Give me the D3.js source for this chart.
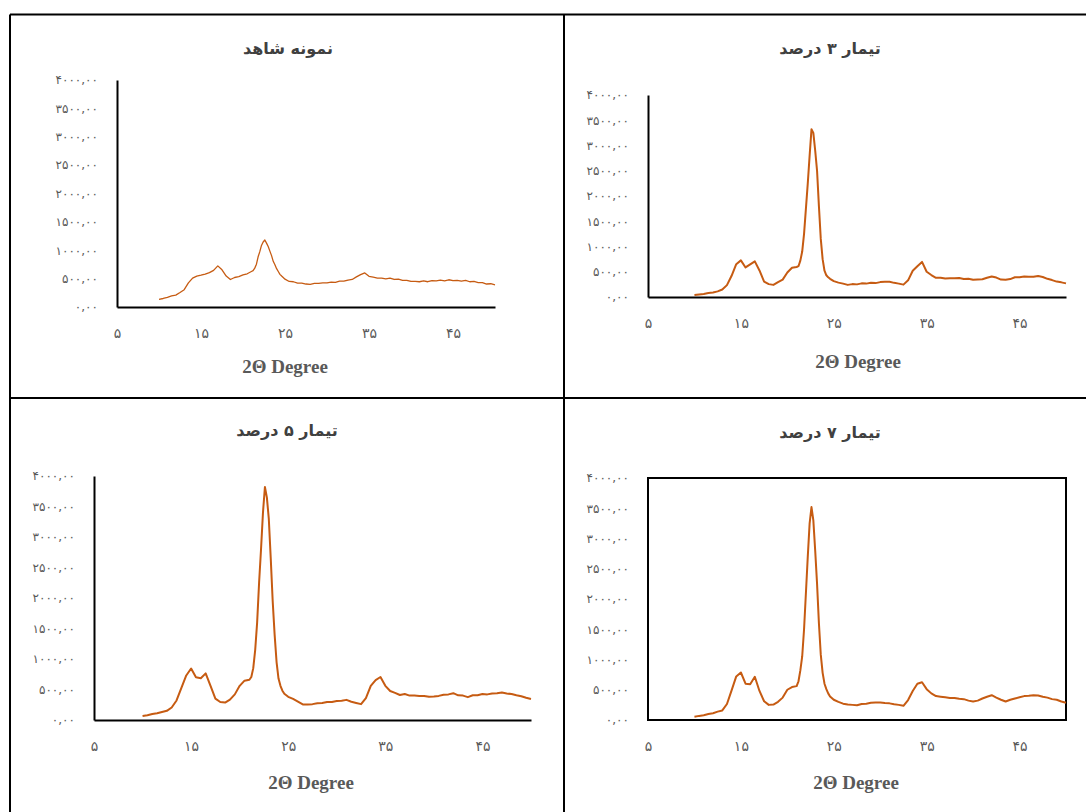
<!DOCTYPE html>
<html>
<head>
<meta charset="utf-8">
<script src="https://cdn.jsdelivr.net/npm/d3@7"></script>
<style>
  body { margin: 0; background: #fff; }
  .tick text { fill: #595959; }
</style>
</head>
<body>
<div id="chart"></div>
<script>
// 2-theta sample points (denser around the main peak)
var angle = [10,10.5,11,11.5,12,12.5,13,13.5,14,14.5,15,15.5,16,16.5,17,17.5,18,18.5,19,19.5,20,20.5,
  21,21.2,21.4,21.6,21.8,22,22.2,22.4,22.6,22.8,23,23.2,23.4,23.6,23.8,24,24.2,24.4,24.6,
  25,25.5,26,26.5,27,27.5,28,28.5,29,29.5,30,30.5,31,31.5,32,32.5,33,33.5,34,34.5,35,35.5,36,36.5,37,37.5,
  38,38.5,39,39.5,40,40.5,41,41.5,42,42.5,43,43.5,44,44.5,45,45.5,46,46.5,47,47.5,48,48.5,49,49.5,50];

var control = [135,150,170,195,210,255,305,425,510,545,560,580,605,645,725,655,545,485,520,535,565,585,
  625,640,685,755,885,975,1085,1145,1180,1125,1065,985,905,805,745,675,625,575,545,
  490,450,445,420,420,405,400,415,415,425,425,440,435,455,455,475,485,530,570,600,540,525,510,510,495,510,
  485,490,470,470,450,450,445,460,445,465,460,475,460,480,465,470,455,470,445,450,430,430,405,410,390,385];

var treat3 = [40,50,58,78,88,112,148,235,420,650,725,585,645,705,525,305,255,240,295,345,485,580,
  595,610,720,900,1250,1750,2250,2800,3320,3250,2900,2500,1800,1150,750,520,430,390,360,
  315,285,265,240,255,250,270,265,280,275,295,300,300,280,265,245,330,520,610,695,500,435,380,380,365,370,
  370,375,355,360,340,345,350,380,405,385,345,340,355,390,390,405,400,400,415,395,360,335,305,290,270];

var treat5 = [65,78,98,112,132,150,205,320,525,730,845,700,685,765,560,350,295,285,335,420,560,645,
  660,705,850,1150,1600,2250,2800,3400,3820,3650,3300,2650,1950,1400,950,680,560,480,430,
  380,345,300,255,255,260,275,280,295,295,310,315,330,300,280,260,360,560,655,705,560,475,445,410,425,400,
  400,395,395,380,385,395,415,420,440,405,400,375,405,405,425,420,435,440,450,435,425,405,390,365,345,330];

var treat7 = [55,68,78,98,112,138,158,265,490,720,785,600,590,715,480,310,250,255,300,370,500,545,
  560,640,820,1050,1500,2100,2700,3250,3520,3300,2800,2250,1600,1080,780,600,510,440,390,
  335,300,270,255,250,245,265,270,285,290,290,280,275,260,250,235,330,480,600,625,510,440,395,385,375,365,
  365,350,345,320,305,320,355,385,410,370,335,305,335,355,375,395,400,410,405,385,370,345,335,305,285];

var series = [control, treat3, treat5, treat7];
var titles = ["نمونه شاهد", "تیمار ۳ درصد", "تیمار ۵ درصد", "تیمار ۷ درصد"];
var axisTitle = "2Θ Degree";
var xTicks = [5, 15, 25, 35, 45];
var yTicks = [0, 500, 1000, 1500, 2000, 2500, 3000, 3500, 4000];

var layout = [
  { left: 117, right: 495, top: 80, bottom: 307, titleX: 288, titleY: 54, axX: 285, axY: 373, line: 1.3, box: false },
  { left: 648, right: 1066, top: 95, bottom: 297, titleX: 830, titleY: 54, axX: 858, axY: 368, line: 2, box: false },
  { left: 94, right: 531, top: 476, bottom: 720, titleX: 287, titleY: 436, axX: 311, axY: 789, line: 2, box: false },
  { left: 648, right: 1066, top: 478, bottom: 720, titleX: 830, titleY: 438, axX: 856, axY: 789, line: 2, box: true }
];

var faDigits = "۰۱۲۳۴۵۶۷۸۹";
function toFa(s) {
  return String(s).replace(/[0-9]/g, function(c) { return faDigits[+c]; });
}
var yFmt = function(d) { return toFa(d3.format(".2f")(d).replace(".", ",")); };

var W = 1086, H = 812;
var svg = d3.select("#chart").append("svg")
  .attr("width", W)
  .attr("height", H);

// table frame
var frame = svg.append("g").attr("stroke", "#000").attr("stroke-width", 2);
frame.append("line").attr("x1", 10).attr("x2", W).attr("y1", 14.5).attr("y2", 14.5);
frame.append("line").attr("x1", 10).attr("x2", 10).attr("y1", 14.5).attr("y2", H);
frame.append("line").attr("x1", 564).attr("x2", 564).attr("y1", 14.5).attr("y2", H);
frame.append("line").attr("x1", 10).attr("x2", W).attr("y1", 398).attr("y2", 398);

layout.forEach(function(p, i) {
  var x = d3.scaleLinear().domain([5, 50]).range([p.left, p.right]);
  var y = d3.scaleLinear().domain([0, 4000]).range([p.bottom, p.top]);
  var g = svg.append("g");

  g.append("text")
    .attr("x", p.titleX).attr("y", p.titleY)
    .attr("text-anchor", "middle")
    .attr("direction", "rtl")
    .style("font-family", "'DejaVu Sans', sans-serif")
    .style("font-weight", "bold")
    .style("font-size", "16px")
    .style("fill", "#404040")
    .text(titles[i]);

  var yAxis = g.append("g")
    .attr("transform", "translate(" + p.left + ",0)")
    .call(d3.axisLeft(y).tickValues(yTicks).tickSize(0).tickPadding(19).tickFormat(yFmt));
  var xAxis = g.append("g")
    .attr("transform", "translate(0," + p.bottom + ")")
    .call(d3.axisBottom(x).tickValues(xTicks).tickSize(0).tickPadding(21).tickFormat(toFa));

  yAxis.selectAll("text").style("font-family", "'DejaVu Sans', sans-serif").style("font-size", "12px");
  xAxis.selectAll("text").style("font-family", "'DejaVu Sans', sans-serif").style("font-size", "14px");
  [yAxis, xAxis].forEach(function(a) {
    a.select(".domain").attr("stroke", "#000").attr("stroke-width", 2)
      .style("display", p.box ? "none" : null);
  });

  if (p.box) {
    g.append("rect")
      .attr("x", p.left).attr("y", p.top)
      .attr("width", p.right - p.left).attr("height", p.bottom - p.top)
      .attr("fill", "none").attr("stroke", "#000").attr("stroke-width", 2);
  }

  var line = d3.line()
    .x(function(d, j) { return x(angle[j]); })
    .y(function(d) { return y(d); });

  g.append("path")
    .datum(series[i])
    .attr("fill", "none")
    .attr("stroke", "#C65B12")
    .attr("stroke-width", p.line)
    .attr("stroke-linejoin", "round")
    .attr("d", line);

  g.append("text")
    .attr("x", p.axX).attr("y", p.axY)
    .attr("text-anchor", "middle")
    .style("font-family", "'Liberation Serif', serif")
    .style("font-weight", "bold")
    .style("font-size", "19px")
    .style("fill", "#595959")
    .text(axisTitle);
});
</script>
</body>
</html>
